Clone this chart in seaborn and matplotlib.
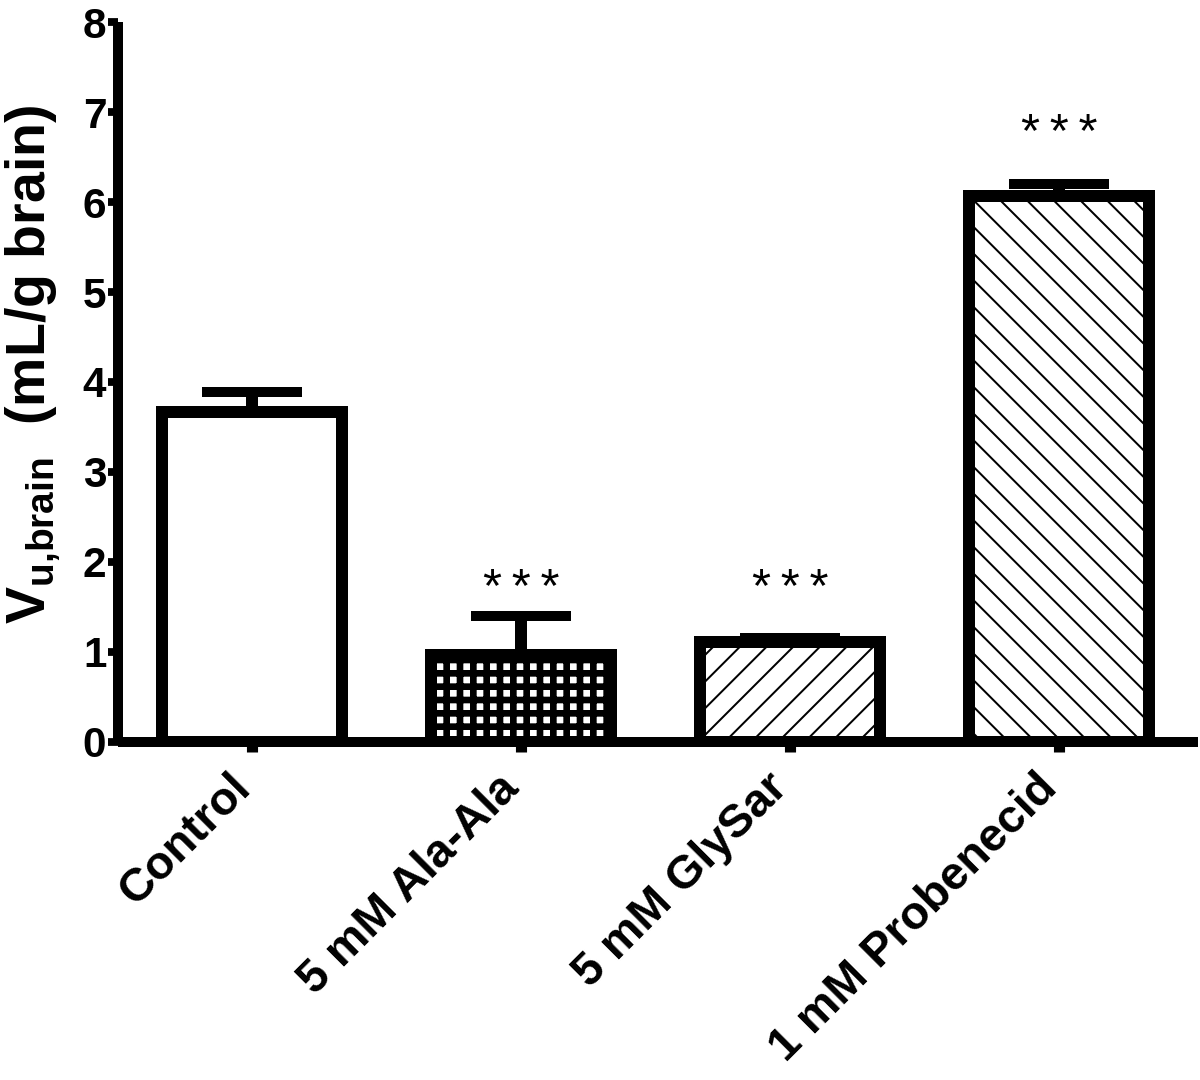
import numpy as np
import pandas as pd
import seaborn as sns
import matplotlib
matplotlib.use("Agg")
import matplotlib.pyplot as plt

# valori
gruppi = ["Control", "5 mM Ala-Ala", "5 mM GlySar", "1 mM Probenecid"]
medie = [3.67, 0.97, 1.11, 6.07]
errori = [0.22, 0.43, 0.05, 0.13]
significativita = ["", "*\u2009*\u2009*", "*\u2009*\u2009*", "*\u2009*\u2009*"]
tratteggi = [None, "+", "/", "\\"]

sns.set_style("ticks")
plt.rcParams["font.family"] = ["Liberation Sans", "DejaVu Sans"]
plt.rcParams["mathtext.fontset"] = "custom"
plt.rcParams["mathtext.rm"] = "Liberation Sans"
plt.rcParams["mathtext.bf"] = "Liberation Sans:bold"
for k in ["text.color", "axes.edgecolor", "axes.labelcolor",
          "xtick.color", "ytick.color"]:
    plt.rcParams[k] = "black"

df = pd.DataFrame({"gruppo": gruppi, "media": medie, "err": errori})

fig = plt.figure(figsize=(15, 13.5), dpi=80)
ax = fig.add_axes([0.0983, 0.313, 0.9, 0.6666])

sns.barplot(data=df, x="gruppo", y="media", color="white", edgecolor="black",
            linewidth=10.8, width=0.67, errorbar=None, ax=ax, zorder=2)

for patch, h in zip(ax.patches, tratteggi):
    if h is None:
        continue
    patch.set_hatch(h)
    lw = 6.0 if h == "+" else 1.8
    if hasattr(patch, "set_hatch_linewidth"):
        patch.set_hatch_linewidth(lw)
    else:
        plt.rcParams["hatch.linewidth"] = 1.8

# barre d'errore solo verso l'alto
xpos = np.arange(len(gruppi))
ax.errorbar(xpos, df["media"], yerr=[np.zeros(len(gruppi)), df["err"]],
            fmt="none", ecolor="black", elinewidth=10.8, capsize=45,
            capthick=9, zorder=3)

# asterischi
altezze_stelle = [0, 1.56, 1.56, 6.61]
for x, s, y in zip(xpos, significativita, altezze_stelle):
    if s:
        ax.text(x, y, s, ha="center", va="baseline", fontsize=44,
                family=["Liberation Sans", "DejaVu Sans"])

ax.set_xlim(-0.498, 3.517)
ax.set_ylim(0, 8)
ax.set_yticks(range(0, 9))
sns.despine(ax=ax)
for sp in ["left", "bottom"]:
    ax.spines[sp].set_linewidth(9)
    ax.spines[sp].set_capstyle("butt")

ax.tick_params(axis="y", direction="out", length=9, width=7, pad=1.5,
               labelsize=38)
ax.tick_params(axis="x", direction="out", length=9, width=10, pad=34,
               labelsize=42)
for lab in ax.get_yticklabels():
    lab.set_fontweight("bold")
ax.set_xticks(xpos)
ax.set_xticklabels(gruppi, rotation=45, ha="right", va="baseline",
                   rotation_mode="anchor", fontweight="bold")

ax.set_xlabel("")
ax.set_ylabel(r"$\mathbf{V}_{\mathbf{u{,}brain}}$  (mL/g brain)",
              fontsize=50, fontweight="bold")
ax.yaxis.set_label_coords(-0.052, 0.525)

fig.savefig("out.png", dpi=80)
